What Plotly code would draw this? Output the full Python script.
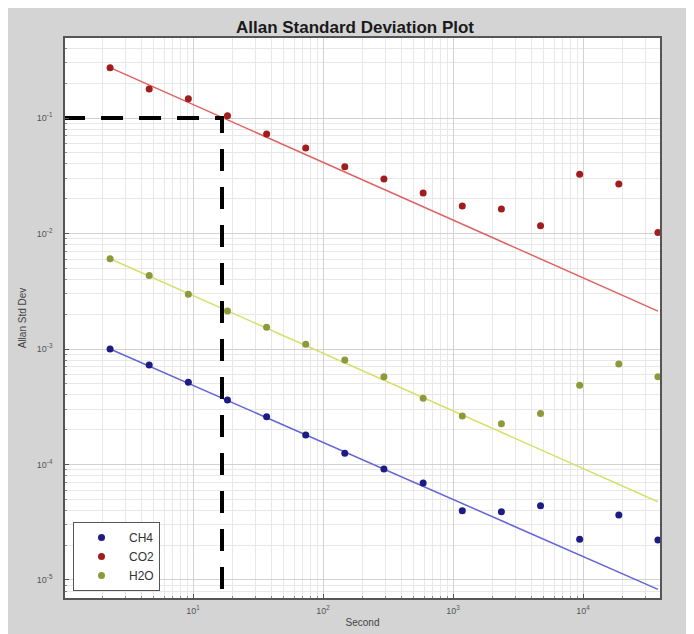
import plotly.graph_objects as go

# averaging times (s)
tau = [2.3, 4.6, 9.2, 18.4, 36.8, 73.6, 147, 294, 589, 1178, 2355, 4710, 9421, 18842, 37683]

ch4 = [1.0e-3, 7.27e-4, 5.15e-4, 3.62e-4, 2.59e-4, 1.80e-4, 1.25e-4, 9.15e-5,
       6.92e-5, 3.98e-5, 3.90e-5, 4.40e-5, 2.25e-5, 3.66e-5, 2.22e-5]
co2 = [0.273, 0.178, 0.147, 0.1047, 0.0727, 0.055, 0.0379, 0.0297,
       0.0224, 0.0173, 0.0163, 0.0117, 0.0326, 0.0269, 0.0102]
h2o = [6.05e-3, 4.32e-3, 2.98e-3, 2.13e-3, 1.54e-3, 1.10e-3, 8.04e-4, 5.76e-4,
       3.74e-4, 2.63e-4, 2.25e-4, 2.77e-4, 4.85e-4, 7.41e-4, 5.76e-4]

# fitted lines (endpoints)
fit_x = [2.3, 37683]
ch4_fit = [1.0e-3, 8.3e-6]
co2_fit = [0.273, 2.13e-3]
h2o_fit = [6.05e-3, 4.76e-5]

# reference dashed line
ref_x = [1.0, 16.7, 16.7]
ref_y = [0.1, 0.1, 1e-6]

x_ticks = [10, 100, 1000, 10000]
x_ticklabels = ["10<sup>1</sup>", "10<sup>2</sup>", "10<sup>3</sup>", "10<sup>4</sup>"]
y_ticks = [1e-5, 1e-4, 1e-3, 1e-2, 1e-1]
y_ticklabels = ["10<sup>-5</sup>", "10<sup>-4</sup>", "10<sup>-3</sup>",
                "10<sup>-2</sup>", "10<sup>-1</sup>"]
x_minor = [m * 10 ** e for e in range(0, 5) for m in range(2, 10)]
y_minor = [m * 10.0 ** e for e in range(-6, 0) for m in range(2, 10)]

series = [
    ("CH4", ch4, ch4_fit, "#1c1c84", "#6464d6"),
    ("CO2", co2, co2_fit, "#a11c1c", "#e06262"),
    ("H2O", h2o, h2o_fit, "#8e9a3a", "#d6e06c"),
]

fig = go.Figure()
for name, vals, fit, mcol, lcol in series:
    fig.add_trace(go.Scatter(x=fit_x, y=fit, mode="lines",
                             line=dict(color=lcol, width=1.5),
                             showlegend=False, hoverinfo="skip"))
for name, vals, fit, mcol, lcol in series:
    fig.add_trace(go.Scatter(x=tau, y=vals, mode="markers", name=name,
                             marker=dict(color=mcol, size=7)))

fig.add_trace(go.Scatter(x=ref_x, y=ref_y, mode="lines",
                         line=dict(color="black", width=4, dash="22px,16px"),
                         showlegend=False, hoverinfo="skip"))

# page offsets the figure by 8px; positions below are in figure pixels
W, H = 694, 634
OFF = 8
L, T = 65 - OFF, 38 - OFF
R, B = W - (660 - OFF), H - (598 - OFF)
pw, ph = W - L - R, H - T - B

def px_x(p):
    return (p - OFF - L) / pw

def px_y(p):
    return (H - B - (p - OFF)) / ph

def axis(minor_vals):
    return dict(
        type="log", showline=True, linecolor="#555555", linewidth=1.5, mirror=True,
        showgrid=True, gridcolor="#d2d2d2", gridwidth=1,
        ticks="inside", ticklen=4, tickcolor="#555555",
        zeroline=False, automargin=False, tickmode="array",
        tickfont=dict(family="Liberation Sans", size=9, color="#555555"),
        minor=dict(tickmode="array", tickvals=minor_vals, showgrid=True,
                   gridcolor="#e8e8e8", ticks="inside", ticklen=2,
                   tickcolor="#888888"),
    )

fig.update_layout(
    width=W, height=H,
    margin=dict(l=L, r=R, t=T, b=B, pad=0, autoexpand=False),
    paper_bgcolor="#d4d4d4", plot_bgcolor="white",
    font=dict(family="Liberation Sans", color="#333333"),
    title=dict(text="<b>Allan Standard Deviation Plot</b>", x=px_x(362.5),
               xanchor="center", y=1 - (27 - OFF) / H, yanchor="middle",
               font=dict(size=17, color="#1a1a1a")),
    xaxis=dict(axis(x_minor), range=[0.015, 4.592], tickvals=x_ticks,
               ticktext=x_ticklabels, ticklabelstandoff=3,
               title=dict(text="Second", font=dict(size=10, color="#444444"),
                          standoff=4)),
    yaxis=dict(axis(y_minor), range=[-5.156, -0.307], tickvals=y_ticks,
               ticktext=y_ticklabels, ticklabelstandoff=9,
               title=dict(text="Allan Std Dev", font=dict(size=10, color="#444444"),
                          standoff=8)),
    legend=dict(x=px_x(73), y=px_y(522), xanchor="left", yanchor="top",
                bgcolor="white", bordercolor="#555555", borderwidth=1,
                font=dict(size=12, color="#333333"), tracegroupgap=0,
                itemwidth=45),
    showlegend=True,
)

fig.write_html("out.html")
